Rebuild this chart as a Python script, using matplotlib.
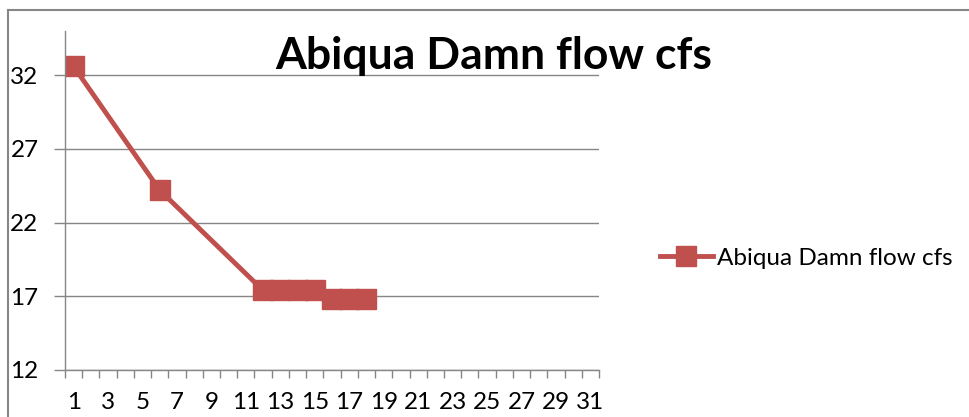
import matplotlib
matplotlib.use("Agg")
import matplotlib.pyplot as plt
from matplotlib.lines import Line2D

days = [1, 6, 12, 13, 14, 15, 16, 17, 18]
flows = [32.6, 24.2, 17.4, 17.4, 17.4, 17.4, 16.8, 16.8, 16.8]
categories = list(range(1, 32))
tick_labels = [str(d) for d in categories if d % 2 == 1]
y_ticks = [12, 17, 22, 27, 32]
series_name = "Abiqua Damn flow cfs"
title = "Abiqua Damn flow cfs"

plt.rcParams['font.family'] = ['Lato', 'DejaVu Sans']
red = '#C0504D'
grey = '#868686'

fig = plt.figure(figsize=(9.7, 4.17), dpi=100)
ax = fig.add_axes([65/970, 1-370/417, (599-65)/970, (370-31)/417])

ax.plot(days, flows, color=red, lw=3.5, marker='s', ms=14.4, mfc=red, mec=red,
        label=series_name, solid_joinstyle='round')

ax.set_xlim(0.5, 31.5)
ax.set_ylim(12, 35)
ax.set_yticks(y_ticks)
ax.set_xticks([d for d in categories if d % 2 == 1])
ax.set_xticklabels(tick_labels)
ax.set_xticks([c - 0.5 for c in categories] + [31.5], minor=True)
ax.tick_params(axis='x', which='major', length=0, labelsize=17.5, pad=16)
ax.tick_params(axis='x', which='minor', length=6, width=1, color=grey, direction='out')
ax.tick_params(axis='y', which='major', length=8, width=1, color=grey, labelsize=17.5, pad=11)
ax.yaxis.grid(True, color=grey, lw=1)
ax.set_axisbelow(True)
for s in ['top', 'right']:
    ax.spines[s].set_visible(False)
for s in ['left', 'bottom']:
    ax.spines[s].set_color(grey)
    ax.spines[s].set_linewidth(1)

fig.text(494/970, 1-69/417, title, ha='center', va='baseline', fontsize=32, fontweight='bold')

handle = Line2D([], [], color=red, lw=3.5, marker='s', ms=14, mfc=red, mec=red)
fig.legend([handle], [series_name], loc='center left', bbox_to_anchor=(650/970, 1-258/417),
           frameon=False, fontsize=17.5, handlelength=2.2, handletextpad=0.15,
           borderaxespad=0, borderpad=0.4)

# outer chart frame
fig.add_artist(Line2D([8/970, 8/970], [0, 1-10/417], color=grey, lw=1.5, transform=fig.transFigure))
fig.add_artist(Line2D([8/970, 1], [1-10/417, 1-10/417], color=grey, lw=1.5, transform=fig.transFigure))

fig.savefig("out.png", dpi=100)
